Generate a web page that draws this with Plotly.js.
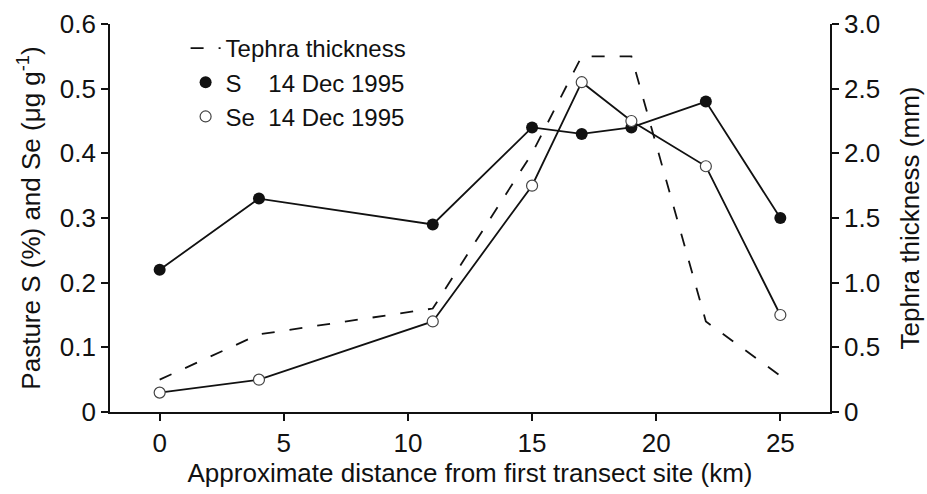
<!DOCTYPE html>
<html>
<head>
<meta charset="utf-8">
<script src="https://cdn.plot.ly/plotly-3.0.1.min.js"></script>
<style>
  html, body { margin: 0; padding: 0; background: #fff; }
  #chart { width: 927px; height: 494px; }
</style>
</head>
<body>
<div id="chart"></div>
<script>
// Data
const distanceKm = [0, 4, 11, 15, 17, 19, 22, 25];
const sulfurPct = [0.22, 0.33, 0.29, 0.44, 0.43, 0.44, 0.48, 0.30];
const seleniumUgG = [0.03, 0.05, 0.14, 0.35, 0.51, 0.45, 0.38, 0.15];
const tephraMm = [0.25, 0.6, 0.8, 2.0, 2.75, 2.75, 0.7, 0.28];

const xTickVals = [0, 5, 10, 15, 20, 25];
const xTickText = ['0', '5', '10', '15', '20', '25'];
const yTickVals = [0, 0.1, 0.2, 0.3, 0.4, 0.5, 0.6];
const yTickText = ['0', '0.1', '0.2', '0.3', '0.4', '0.5', '0.6'];
const y2TickVals = [0, 0.5, 1.0, 1.5, 2.0, 2.5, 3.0];
const y2TickText = ['0', '0.5', '1.0', '1.5', '2.0', '2.5', '3.0'];

const ink = '#111';
const FONT = 'Liberation Sans, Arial, Helvetica, sans-serif';

const traces = [
  {
    x: distanceKm, y: tephraMm, yaxis: 'y2', mode: 'lines',
    name: 'Tephra thickness',
    line: { color: ink, width: 1.8, dash: '13px,15px' },
    showlegend: true
  },
  {
    x: distanceKm, y: sulfurPct, mode: 'lines',
    line: { color: ink, width: 1.8 }, showlegend: false, hoverinfo: 'skip'
  },
  {
    x: distanceKm, y: seleniumUgG, mode: 'lines',
    line: { color: ink, width: 1.8 }, showlegend: false, hoverinfo: 'skip'
  },
  {
    x: distanceKm, y: sulfurPct, mode: 'markers',
    name: 'S    14 Dec 1995',
    marker: { symbol: 'circle', size: 12, color: ink, line: { width: 0 } }
  },
  {
    x: distanceKm, y: seleniumUgG, mode: 'markers',
    name: 'Se  14 Dec 1995',
    marker: { symbol: 'circle', size: 11, color: '#fff', line: { color: '#444', width: 1.2 } }
  }
];

const axisCommon = {
  showgrid: false, zeroline: false, showline: true,
  linecolor: ink, linewidth: 1.8,
  ticks: 'outside', ticklen: 7, tickwidth: 1.8, tickcolor: ink,
  tickfont: { family: FONT, size: 26, color: ink }
};

const layout = {
  width: 927, height: 494,
  margin: { l: 110, r: 97, t: 24, b: 82 },
  paper_bgcolor: '#fff', plot_bgcolor: '#fff',
  font: { family: FONT, color: ink, size: 26 },
  xaxis: Object.assign({}, axisCommon, {
    range: [-2, 27], tickmode: 'array', tickvals: xTickVals, ticktext: xTickText,
    title: { text: 'Approximate distance from first transect site (km)', font: { family: FONT, size: 26, color: ink }, standoff: 2 }
  }),
  yaxis: Object.assign({}, axisCommon, {
    range: [0, 0.6], tickmode: 'array', tickvals: yTickVals, ticktext: yTickText,
    title: { text: 'Pasture S (%) and Se (μg g<sup>-1</sup>)', font: { family: FONT, size: 26, color: ink }, standoff: 12 }
  }),
  yaxis2: Object.assign({}, axisCommon, {
    range: [0, 3.0], overlaying: 'y', side: 'right',
    tickmode: 'array', tickvals: y2TickVals, ticktext: y2TickText,
    title: { text: 'Tephra thickness (mm)', font: { family: FONT, size: 26, color: ink }, standoff: 22 }
  }),
  legend: {
    x: 0.105, y: 0.995, xanchor: 'left', yanchor: 'top',
    bgcolor: 'rgba(0,0,0,0)', borderwidth: 0,
    font: { family: FONT, size: 24, color: ink },
    tracegroupgap: 0
  },
  showlegend: true
};

Plotly.newPlot('chart', traces, layout, { displayModeBar: false, staticPlot: true });
</script>
</body>
</html>
